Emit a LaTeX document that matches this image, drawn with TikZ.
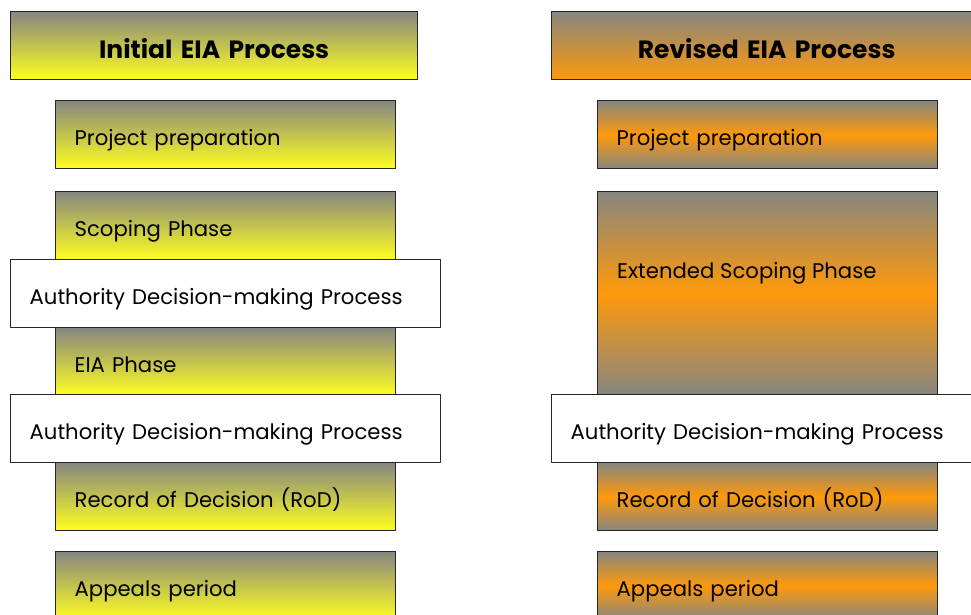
\documentclass[tikz,border=0pt]{standalone}
\usepackage{fontspec}
\setmainfont{Poppins}
\usetikzlibrary{positioning}
\definecolor{boxgray}{RGB}{134,134,128}
\definecolor{eiayellow}{RGB}{255,255,32}
\definecolor{eiaorange}{RGB}{255,153,10}

\begin{document}
\begin{tikzpicture}[x=1pt, y=-1pt, font=\fontsize{21.2}{25}\selectfont, line join=round,
  box/.style={draw=black!85, line width=1.3pt, anchor=north west, minimum height=68pt, inner xsep=19pt, inner ysep=0pt, text height=22pt, text depth=0pt, align=left},
  phaseL/.style={box, text width=302pt, top color=boxgray, bottom color=eiayellow},
  phaseR/.style={box, text width=302pt, top color=boxgray, bottom color=boxgray, middle color=eiaorange},
  authbox/.style={box, text width=392pt, fill=white},
  headbox/.style={box, align=center, text height=26pt, font=\fontsize{25}{30}\selectfont\bfseries}]
\useasboundingbox (0,0) rectangle (971,614);
\coordinate (hl) at (10,11); \coordinate (hr) at (551,11);
\coordinate (pl) at (55,100); \coordinate (pr) at (597,100);
% headers
\node[headbox, text width=369pt, top color=boxgray, bottom color=eiayellow] (headL) at (hl) {Initial EIA Process};
\node[headbox, text width=392pt, top color=boxgray, bottom color=eiaorange] (headR) at (hr) {Revised EIA Process};
% initial process
\node[phaseL] (prepL) at (pl) {Project preparation};
\node[phaseL] (scopeL) at (55,191) {Scoping Phase};
\node[phaseL] (eiaL) at (55,327) {EIA Phase};
\node[phaseL] (rodL) at (55,462) {Record of Decision (RoD)};
\node[phaseL] (appealL) at (55,551) {Appeals period};
\node[authbox] (authA) at (10,259) {Authority Decision-making Process};
\node[authbox] (authB) at (10,394) {Authority Decision-making Process};
% revised process
\node[phaseR] (prepR) at (pr) {Project preparation};
\node[phaseR, minimum height=203pt] (scopeR) at (597,191) {};
\node[anchor=base west, inner sep=0pt] (scopeRtxt) at (617,278) {Extended Scoping Phase};
\node[phaseR] (rodR) at (597,462) {Record of Decision (RoD)};
\node[phaseR] (appealR) at (597,551) {Appeals period};
\node[authbox] (authC) at (551,394) {Authority Decision-making Process};
\end{tikzpicture}
\end{document}
